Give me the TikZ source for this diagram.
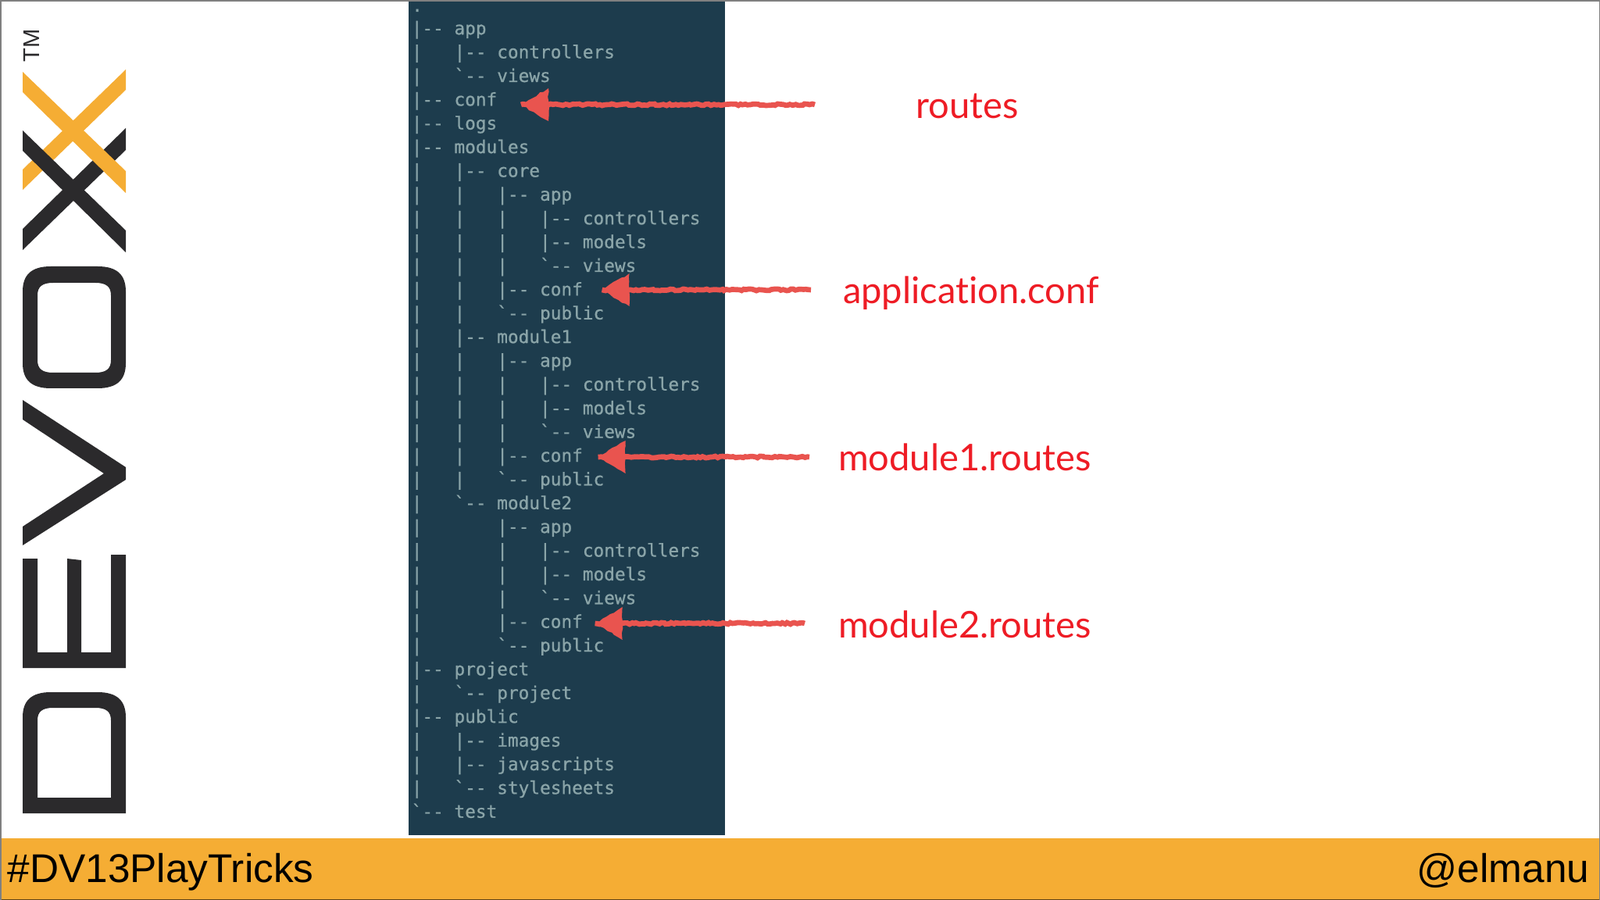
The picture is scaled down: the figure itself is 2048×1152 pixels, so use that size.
\documentclass[tikz,border=0pt]{standalone}
\usepackage{fontspec}
\usetikzlibrary{calc,decorations.pathmorphing}
\newfontfamily\treefont[FakeBold=0.8]{DejaVu Sans Mono}
\newfontfamily\labelfont[Ligatures=NoCommon]{Lato}
\newfontfamily\barfont{Liberation Sans}
\definecolor{panelblue}{HTML}{1D3C4D}
\definecolor{treegrey}{HTML}{8AA4A8}
\definecolor{arrowred}{HTML}{E9544F}
\definecolor{labelred}{HTML}{EE1C25}
\definecolor{barorange}{HTML}{F5AD34}
\definecolor{logodark}{HTML}{2B2A2C}
\begin{document}
\begin{tikzpicture}[
	x = 0.01cm, y = -0.01cm, % one unit is one pixel of the slide
	treerow/.style = {anchor=base west, inner sep=0pt, text=treegrey, font=\treefont\fontsize{6.47}{6.47}\selectfont},
	shaft/.style = {draw=arrowred, line width=1.9pt, decorate, decoration={random steps,segment length=0.9pt,amplitude=0.3pt}},
	arrowhead/.style = {fill=arrowred, decorate, decoration={random steps,segment length=1.6pt,amplitude=0.35pt}},
	filelabel/.style = {anchor=base, inner sep=0pt, text=labelred, font=\labelfont\fontsize{13.4}{13.4}\selectfont},
	bartext/.style = {anchor=base, inner sep=0pt, text=black, font=\barfont\fontsize{14.6}{14.6}\selectfont}
	]
	
	\useasboundingbox (0,0) rectangle (2048,1152);
	\fill[white] (0,0) rectangle (2048,1152);
	\fill[gray] (0,0) rectangle (2048,2);
	\fill[gray] (0,0) rectangle (2,1152);
	\fill[gray] (2047,0) rectangle (2048,1152);
	
	% logo
	\fill[logodark,even odd rule]
	(29,1041) -- (161,1041) -- (161,918) .. controls (161,897) and (150,886) .. (125,886) -- (65,886) .. controls (40,886) and (29,897) .. (29,918) -- cycle
	(48,1021) -- (142,1021) -- (142,922) .. controls (142,911) and (136,906) .. (122,906) -- (68,906) .. controls (54,906) and (48,911) .. (48,922) -- cycle;
	\fill[logodark] (29,855) -- (161,855) -- (161,710) -- (142,710) -- (142,835) -- (104,835) -- (104,717) -- (86,715) -- (86,835) -- (48,835) -- (48,715) -- (29,715) -- cycle;
	\fill[logodark] (29,512) -- (161,598) -- (161,614) -- (29,698) -- (29,674) -- (133,606) -- (29,537) -- cycle;
	\fill[logodark,even odd rule]
	(65,341) -- (125,341) .. controls (150,341) and (161,352) .. (161,373) -- (161,465) .. controls (161,486) and (150,497) .. (125,497) -- (65,497) .. controls (40,497) and (29,486) .. (29,465) -- (29,373) .. controls (29,352) and (40,341) .. (65,341) -- cycle
	(68,362) -- (122,362) .. controls (136,362) and (142,367) .. (142,378) -- (142,461) .. controls (142,472) and (136,477) .. (122,477) -- (68,477) .. controls (54,477) and (48,472) .. (48,461) -- (48,378) .. controls (48,367) and (54,362) .. (68,362) -- cycle;
	\fill[barorange] (29,217) -- (161,89) -- (161,115) -- (29,243) -- cycle;
	\fill[logodark] (29,167) -- (161,295) -- (161,323) -- (29,193) -- cycle;
	\fill[logodark] (29,293) -- (161,164) -- (161,192) -- (29,320) -- cycle;
	\fill[barorange] (29,92) -- (161,219) -- (161,247) -- (29,118) -- cycle;
	\node[inner sep=0pt, rotate=90, text=logodark, font=\barfont\fontsize{8.3}{8.3}\selectfont] (tm) at (40,58) {TM};
	
	% tree listing
	\fill[panelblue] (523,2) rectangle (928,1069);
	\node[treerow] (row0) at (526.5,15) {.};
	\foreach \line [count=\i] in {
		|-{}- app,
		|~~~|-{}- controllers,
		|~~~`-{}- views,
		|-{}- conf,
		|-{}- logs,
		|-{}- modules,
		|~~~|-{}- core,
		|~~~|~~~|-{}- app,
		|~~~|~~~|~~~|-{}- controllers,
		|~~~|~~~|~~~|-{}- models,
		|~~~|~~~|~~~`-{}- views,
		|~~~|~~~|-{}- conf,
		|~~~|~~~`-{}- public,
		|~~~|-{}- module1,
		|~~~|~~~|-{}- app,
		|~~~|~~~|~~~|-{}- controllers,
		|~~~|~~~|~~~|-{}- models,
		|~~~|~~~|~~~`-{}- views,
		|~~~|~~~|-{}- conf,
		|~~~|~~~`-{}- public,
		|~~~`-{}- module2,
		|~~~~~~~|-{}- app,
		|~~~~~~~|~~~|-{}- controllers,
		|~~~~~~~|~~~|-{}- models,
		|~~~~~~~|~~~`-{}- views,
		|~~~~~~~|-{}- conf,
		|~~~~~~~`-{}- public,
		|-{}- project,
		|~~~`-{}- project,
		|-{}- public,
		|~~~|-{}- images,
		|~~~|-{}- javascripts,
		|~~~`-{}- stylesheets,
		`-{}- test}
	{
		\node[treerow] (row\i) at (526,{44.2+30.38*(\i-1)}) {\line};
	}
	
	% labels and arrows
	\node[filelabel] (routes) at (1238,152) {routes};
	\node[filelabel] (appconf) at (1243,389) {application.conf};
	\node[filelabel] (modone) at (1235,603) {module1.routes};
	\node[filelabel] (modtwo) at (1235,816) {module2.routes};
	\coordinate (tailroutes) at (1043,134);
	\coordinate (tailappconf) at (1038,371);
	\coordinate (tailmodone) at (1036,585);
	\coordinate (tailmodtwo) at (1030,798);
	\foreach \lbl/\rownum/\gap in {routes/4/30, appconf/12/24, modone/19/19, modtwo/26/15}
	{
		\coordinate (tip\lbl) at ($(tail\lbl -| row\rownum.east)+(\gap,0)$);
		\draw[shaft] (tail\lbl) -- (tip\lbl);
		\fill[arrowhead] (tip\lbl) -- ++(35,-21) -- ++(0,42) -- cycle;
	}
	
	% bottom bar
	\fill[barorange] (2,1073) rectangle (2047,1152);
	\fill[black!60!barorange] (2,1151) rectangle (2047,1152);
	\node[bartext, anchor=base west] (hashtag) at (9,1129) {\#DV13PlayTricks};
	\node[bartext, anchor=base east] (handle) at (2035,1129) {@elmanu};
	
\end{tikzpicture}
\end{document}
